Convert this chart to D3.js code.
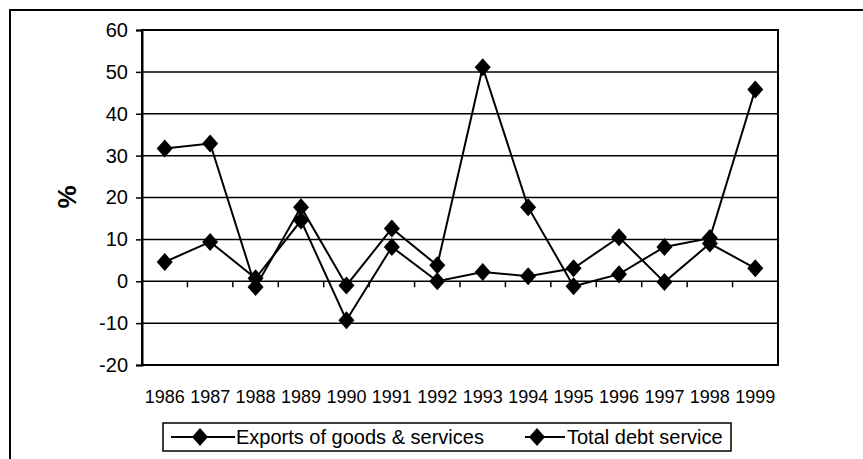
<!DOCTYPE html>
<html>
<head>
<meta charset="utf-8">
<script src="https://cdn.jsdelivr.net/npm/d3@7"></script>
<style>
  body { margin: 0; background: #fff; }
  svg { display: block; font-family: "Liberation Sans", Arial, sans-serif; }
</style>
</head>
<body>
<svg id="chart" width="863" height="459"></svg>
<script>
// data
var years = ["1986", "1987", "1988", "1989", "1990", "1991", "1992",
             "1993", "1994", "1995", "1996", "1997", "1998", "1999"];
var exportsGS = [4.6, 9.4, 0.7, 14.5, -9.3, 8.2, 0.0, 2.2, 1.2, 3.1, 10.5, -0.2, 9.0, 3.1];
var debtService = [31.7, 32.9, -1.4, 17.7, -1.0, 12.6, 3.8, 51.1, 17.7, -1.2, 1.7, 8.2, 10.3, 45.8];
var yTicks = [-20, -10, 0, 10, 20, 30, 40, 50, 60];
var seriesNames = ["Exports of goods & services", "Total debt service"];

function drawChart()
{
    var svg = d3.select("#chart");
    const left = 142, right = 778, top = 30, bottom = 365;

    // outer frame (right and bottom edges fall outside the picture)
    svg.append("rect")
        .attr("x", 10).attr("y", 10)
        .attr("width", 900).attr("height", 500)
        .attr("fill", "none").attr("stroke", "#000").attr("stroke-width", 2);

    var xScale = d3.scaleBand().domain(years).range([left, right]).padding(0);
    var yScale = d3.scaleLinear().domain([-20, 60]).range([bottom, top]);
    var cx = function (i) { return xScale(years[i]) + xScale.bandwidth() / 2; };

    // gridlines
    svg.append("g").selectAll("line")
        .data(yTicks).enter().append("line")
        .attr("x1", left).attr("x2", right)
        .attr("y1", (d) => yScale(d)).attr("y2", (d) => yScale(d))
        .attr("stroke", "#000").attr("stroke-width", 1.5);

    // plot border
    svg.append("rect")
        .attr("x", left).attr("y", top)
        .attr("width", right - left).attr("height", bottom - top)
        .attr("fill", "none").attr("stroke", "#000").attr("stroke-width", 2);

    // y axis (plain hyphen for negatives, like the original)
    var y_axis = d3.axisLeft(yScale).tickValues(yTicks)
        .tickFormat((d) => String(d))
        .tickSize(6).tickPadding(8);
    var yg = svg.append("g")
        .attr("transform", `translate(${left}, 0)`)
        .call(y_axis);
    yg.select(".domain").attr("stroke", "#000").attr("stroke-width", 2);
    yg.selectAll(".tick line").attr("stroke", "#000").attr("stroke-width", 1.5);
    yg.selectAll(".tick text")
        .style("font-size", "20px")
        .attr("fill", "#000");

    // category ticks on the zero line, between categories
    var bounds = years.map((d) => xScale(d)).concat([right]);
    svg.append("g").selectAll("line")
        .data(bounds).enter().append("line")
        .attr("x1", (d) => d).attr("x2", (d) => d)
        .attr("y1", yScale(0)).attr("y2", yScale(0) + 6)
        .attr("stroke", "#000").attr("stroke-width", 1.5);

    // category labels
    var x_axis = d3.axisBottom(xScale).tickSize(0).tickPadding(0);
    var xg = svg.append("g")
        .attr("transform", `translate(0, ${bottom + 25})`)
        .call(x_axis);
    xg.select(".domain").remove();
    xg.selectAll(".tick text")
        .style("font-size", "18px")
        .attr("fill", "#000");

    // axis title
    svg.append("text")
        .attr("transform", "translate(76, 197) rotate(-90)")
        .attr("text-anchor", "middle")
        .style("font-size", "26px")
        .style("font-weight", "bold")
        .text("%");

    var diamond = "M0,-9L8,0L0,9L-8,0Z";
    var line = d3.line()
        .x((d, i) => cx(i))
        .y((d) => yScale(d));

    [exportsGS, debtService].forEach(function (vals) {
        svg.append("path")
            .attr("d", line(vals))
            .attr("fill", "none")
            .attr("stroke", "#000")
            .attr("stroke-width", 2);
        svg.append("g").selectAll("path")
            .data(vals).enter().append("path")
            .attr("d", diamond)
            .attr("transform", (d, i) => `translate(${cx(i)}, ${yScale(d)})`)
            .attr("fill", "#000");
    });

    // legend
    var legend = svg.append("g");
    legend.append("rect")
        .attr("x", 163).attr("y", 423)
        .attr("width", 568).attr("height", 28)
        .attr("fill", "#fff").attr("stroke", "#000").attr("stroke-width", 1.5);

    var entries = [{x1: 171, x2: 235, mx: 200, tx: 236},
                   {x1: 525, x2: 565, mx: 537, tx: 567}];
    entries.forEach(function (e, i) {
        legend.append("line")
            .attr("x1", e.x1).attr("x2", e.x2)
            .attr("y1", 437).attr("y2", 437)
            .attr("stroke", "#000").attr("stroke-width", 2);
        legend.append("path")
            .attr("d", diamond)
            .attr("transform", `translate(${e.mx}, 437)`)
            .attr("fill", "#000");
        legend.append("text")
            .attr("x", e.tx).attr("y", 444)
            .style("font-size", "20px")
            .text(seriesNames[i]);
    });
}

drawChart();
</script>
</body>
</html>
